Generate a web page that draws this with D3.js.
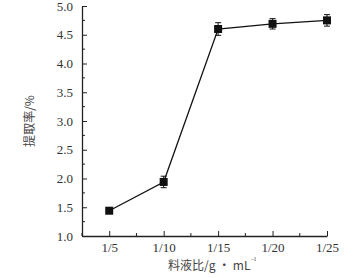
<!DOCTYPE html>
<html>
<head>
<meta charset="utf-8">
<script src="https://cdn.jsdelivr.net/npm/d3@7"></script>
<style>
  body { margin: 0; background: #fff; }
  svg { display: block; }
</style>
</head>
<body>
<svg id="chart"></svg>
<script>
const width = 361;
const height = 278;

// data
const categories = ["1/5", "1/10", "1/15", "1/20", "1/25"];
const yields = [1.44, 1.94, 4.60, 4.69, 4.75];
const errors = [0.05, 0.10, 0.11, 0.09, 0.10];
const yTicks = [1.0, 1.5, 2.0, 2.5, 3.0, 3.5, 4.0, 4.5, 5.0];

const svg = d3.select("#chart")
  .attr("width", width)
  .attr("height", height);

const plotLeft = 82, plotRight = 327, plotTop = 6, plotBottom = 236;
const serif = "'Liberation Serif', 'Times New Roman', serif";
const cjk = "'Noto Sans CJK SC', sans-serif";

// x: category index, half a step of padding only on the left
const x = d3.scaleLinear().domain([-0.5, 4]).range([plotLeft, plotRight]);
const y = d3.scaleLinear().domain([1, 5]).range([plotBottom, plotTop]);

const g = svg.append("g");

// minor ticks
const xMinor = d3.range(-0.5, 4, 0.5).filter(v => !Number.isInteger(v));
g.selectAll(".xminor").data(xMinor).enter().append("line")
  .attr("x1", d => x(d)).attr("x2", d => x(d))
  .attr("y1", plotBottom).attr("y2", plotBottom - 3)
  .attr("stroke", "#222").attr("stroke-width", 1);

const yMinor = d3.range(1.25, 5, 0.5);
g.selectAll(".yminor").data(yMinor).enter().append("line")
  .attr("x1", plotLeft).attr("x2", plotLeft + 3)
  .attr("y1", d => y(d)).attr("y2", d => y(d))
  .attr("stroke", "#222").attr("stroke-width", 1);

// x axis
const xAxis = d3.axisBottom(x)
  .tickValues(d3.range(categories.length))
  .tickFormat(i => categories[i])
  .tickSizeInner(-5)
  .tickSizeOuter(0)
  .tickPadding(7);

const xAxisG = g.append("g")
  .attr("transform", `translate(0,${plotBottom})`)
  .call(xAxis);

// y axis
const yAxis = d3.axisLeft(y)
  .tickValues(yTicks)
  .tickFormat(d3.format(".1f"))
  .tickSizeInner(-5)
  .tickSizeOuter(0)
  .tickPadding(9);

const yAxisG = g.append("g")
  .attr("transform", `translate(${plotLeft},0)`)
  .call(yAxis);

[xAxisG, yAxisG].forEach(a => {
  a.select(".domain").attr("stroke", "#222").attr("stroke-width", 1.3);
  a.selectAll(".tick line").attr("stroke", "#222").attr("stroke-width", 1);
  a.selectAll(".tick text")
    .attr("fill", "#333")
    .style("font-family", serif)
    .style("font-size", "13px");
});

// axis titles
svg.append("text")
  .attr("transform", `translate(34,${(plotTop + plotBottom) / 2}) rotate(-90)`)
  .attr("text-anchor", "middle")
  .attr("fill", "#444")
  .style("font-family", cjk)
  .style("font-size", "12px")
  .text("提取率/%");

const xt = svg.append("text")
  .attr("x", 168)
  .attr("y", 270)
  .attr("fill", "#444")
  .style("font-family", cjk)
  .style("font-size", "12px")
  .text("料液比/g · mL");

const xtEnd = 168 + xt.node().getComputedTextLength();
svg.append("text")
  .attr("x", xtEnd + 1)
  .attr("y", 261)
  .attr("fill", "#444")
  .style("font-family", serif)
  .style("font-size", "6px")
  .text("-1");

// line
const pts = yields.map((v, i) => ({ i, v, e: errors[i] }));
const line = d3.line().x(d => x(d.i)).y(d => y(d.v));

g.append("path")
  .datum(pts)
  .attr("fill", "none")
  .attr("stroke", "#111")
  .attr("stroke-width", 1.3)
  .attr("d", line);

// error bars
const eb = g.selectAll(".err").data(pts).enter().append("g");
eb.append("line")
  .attr("x1", d => x(d.i)).attr("x2", d => x(d.i))
  .attr("y1", d => y(d.v - d.e)).attr("y2", d => y(d.v + d.e))
  .attr("stroke", "#111").attr("stroke-width", 1);
[1, -1].forEach(s => {
  eb.append("line")
    .attr("x1", d => x(d.i) - 3).attr("x2", d => x(d.i) + 3)
    .attr("y1", d => y(d.v + s * d.e)).attr("y2", d => y(d.v + s * d.e))
    .attr("stroke", "#111").attr("stroke-width", 1);
});

// square markers
g.selectAll(".pt").data(pts).enter().append("rect")
  .attr("x", d => x(d.i) - 4)
  .attr("y", d => y(d.v) - 4)
  .attr("width", 8)
  .attr("height", 8)
  .attr("fill", "#111");
</script>
</body>
</html>
